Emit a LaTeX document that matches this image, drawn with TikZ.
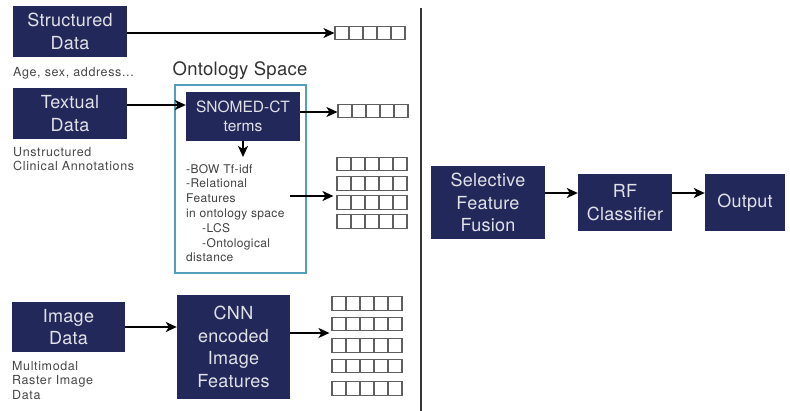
\documentclass[tikz,border=0pt]{standalone}
\usepackage{fontspec}
\setmainfont{TeX Gyre Heros}
\usetikzlibrary{arrows.meta,calc}

\definecolor{navy}{RGB}{35,40,90}
\definecolor{boxtext}{RGB}{225,226,232}
\definecolor{labelgray}{RGB}{70,70,70}
\definecolor{ontoblue}{RGB}{84,158,189}
\definecolor{cellgray}{RGB}{95,95,95}
\definecolor{divider}{RGB}{55,55,55}

\tikzset{
  block/.style={fill=navy, draw=none, text=boxtext, align=center, inner sep=0pt,
    font=\fontsize{18}{22.5}\selectfont\addfontfeature{LetterSpace=1.5}},
  smallblock/.style={block, font=\fontsize{15.5}{19}\selectfont},
  caption/.style={text=labelgray, align=left, inner sep=0pt, anchor=north west,
    font=\fontsize{12.5}{14.5}\selectfont\addfontfeature{LetterSpace=5}},
  arr/.style={line width=1.8pt, draw=black,
    -{Stealth[length=11pt,width=10pt,inset=3pt]}},
  vecrow/.style={draw=cellgray, line width=1.1pt, minimum width=70pt,
    minimum height=13.5pt, inner sep=0pt,
    path picture={
      \foreach \i in {1,...,4}{
        \draw[cellgray, line width=1.1pt]
          ($(path picture bounding box.south west)!\i/5!(path picture bounding box.south east)$) --
          ($(path picture bounding box.north west)!\i/5!(path picture bounding box.north east)$);
      }}},
}

\begin{document}
\begin{tikzpicture}[x=1pt, y=-1pt]
\useasboundingbox (0,0) rectangle (790,411);

% input modalities
\node[block, minimum width=114pt, minimum height=51pt] (sd) at (70,31.5) {Structured\\Data};
\node[block, minimum width=114pt, minimum height=51pt] (td) at (70,113.5) {Textual\\Data};
\node[block, minimum width=113pt, minimum height=50pt] (id) at (68.5,327) {Image\\Data};

\node[caption] (sdcap) at (13,67) {Age, sex, address...};
\node[caption] (tdcap) at (13,147) {Unstructured\\Clinical Annotations};
\node[caption] (idcap) at (12,361) {Multimodal\\Raster Image\\Data};

% ontology space
\node[text=labelgray!70!black, anchor=base, inner sep=0pt,
  font=\fontsize{18.5}{20}\selectfont\addfontfeature{LetterSpace=1.5}] (ontolabel) at (240,76) {Ontology Space};
\draw[ontoblue, line width=1.8pt] (175,85) rectangle (306,273);
\node[smallblock, minimum width=114pt, minimum height=49pt] (sn) at (243,116.5) {SNOMED-CT\\terms};
\node[caption, text=black!75, font=\fontsize{12}{14.8}\selectfont\addfontfeature{LetterSpace=3}] (feat) at (186,164)
  {-BOW Tf-idf\\-Relational\\Features\\in ontology space\\\hspace{16pt}-LCS\\\hspace{16pt}-Ontological\\distance};

% image encoder
\node[block, minimum width=113pt, minimum height=104pt] (cnn) at (233.5,347) {CNN\\encoded\\Image\\Features};

% feature vectors
\node[vecrow] (v1) at (370,33) {};
\node[vecrow] (v2) at (373,111) {};
\node[vecrow] (v3a) at (372,164) {};
\node[vecrow] (v3b) at (372,183.5) {};
\node[vecrow] (v3c) at (372,202.5) {};
\node[vecrow] (v3d) at (372,221.5) {};
\node[vecrow] (v4a) at (367,303.5) {};
\node[vecrow] (v4b) at (367,324) {};
\node[vecrow] (v4c) at (367,345.5) {};
\node[vecrow] (v4d) at (367,366) {};
\node[vecrow] (v4e) at (367,388.5) {};

% separator
\draw[divider, line width=2pt] (421,8) -- (421,411);

% fusion and classification
\node[block, minimum width=114pt, minimum height=73pt] (sff) at (488,202.5) {Selective\\Feature\\Fusion};
\node[block, minimum width=94pt, minimum height=57pt] (rf) at (625,202.5) {RF\\Classifier};
\node[block, minimum width=80pt, minimum height=57pt] (out) at (745,202.5) {Output};

% connectors
\coordinate (tdrow) at (0,105);
\coordinate (snrow) at (0,112);
\coordinate (sndown) at (0,157);
\coordinate (featout) at (290,196);
\coordinate (cnnrow) at (0,333);
\coordinate (fusrow) at (0,193);

\draw[arr] (sd.east |- v1.west) -- (v1.west);
\draw[arr] (td.east |- tdrow) -- (sn.west |- tdrow);
\draw[arr] (sn.east |- snrow) -- (v2.west |- snrow);
\draw[arr] (sn.south) -- (sn.south |- sndown);
\draw[arr] (featout) -- ($(v3c.west |- featout)+(-3,0)$);
\draw[arr] (id.east) -- (id.east -| cnn.west);
\draw[arr] (cnn.east |- cnnrow) -- ($(v4b.west |- cnnrow)+(-2,0)$);
\draw[arr] (sff.east |- fusrow) -- (rf.west |- fusrow);
\draw[arr] (rf.east |- fusrow) -- (out.west |- fusrow);
\end{tikzpicture}
\end{document}
